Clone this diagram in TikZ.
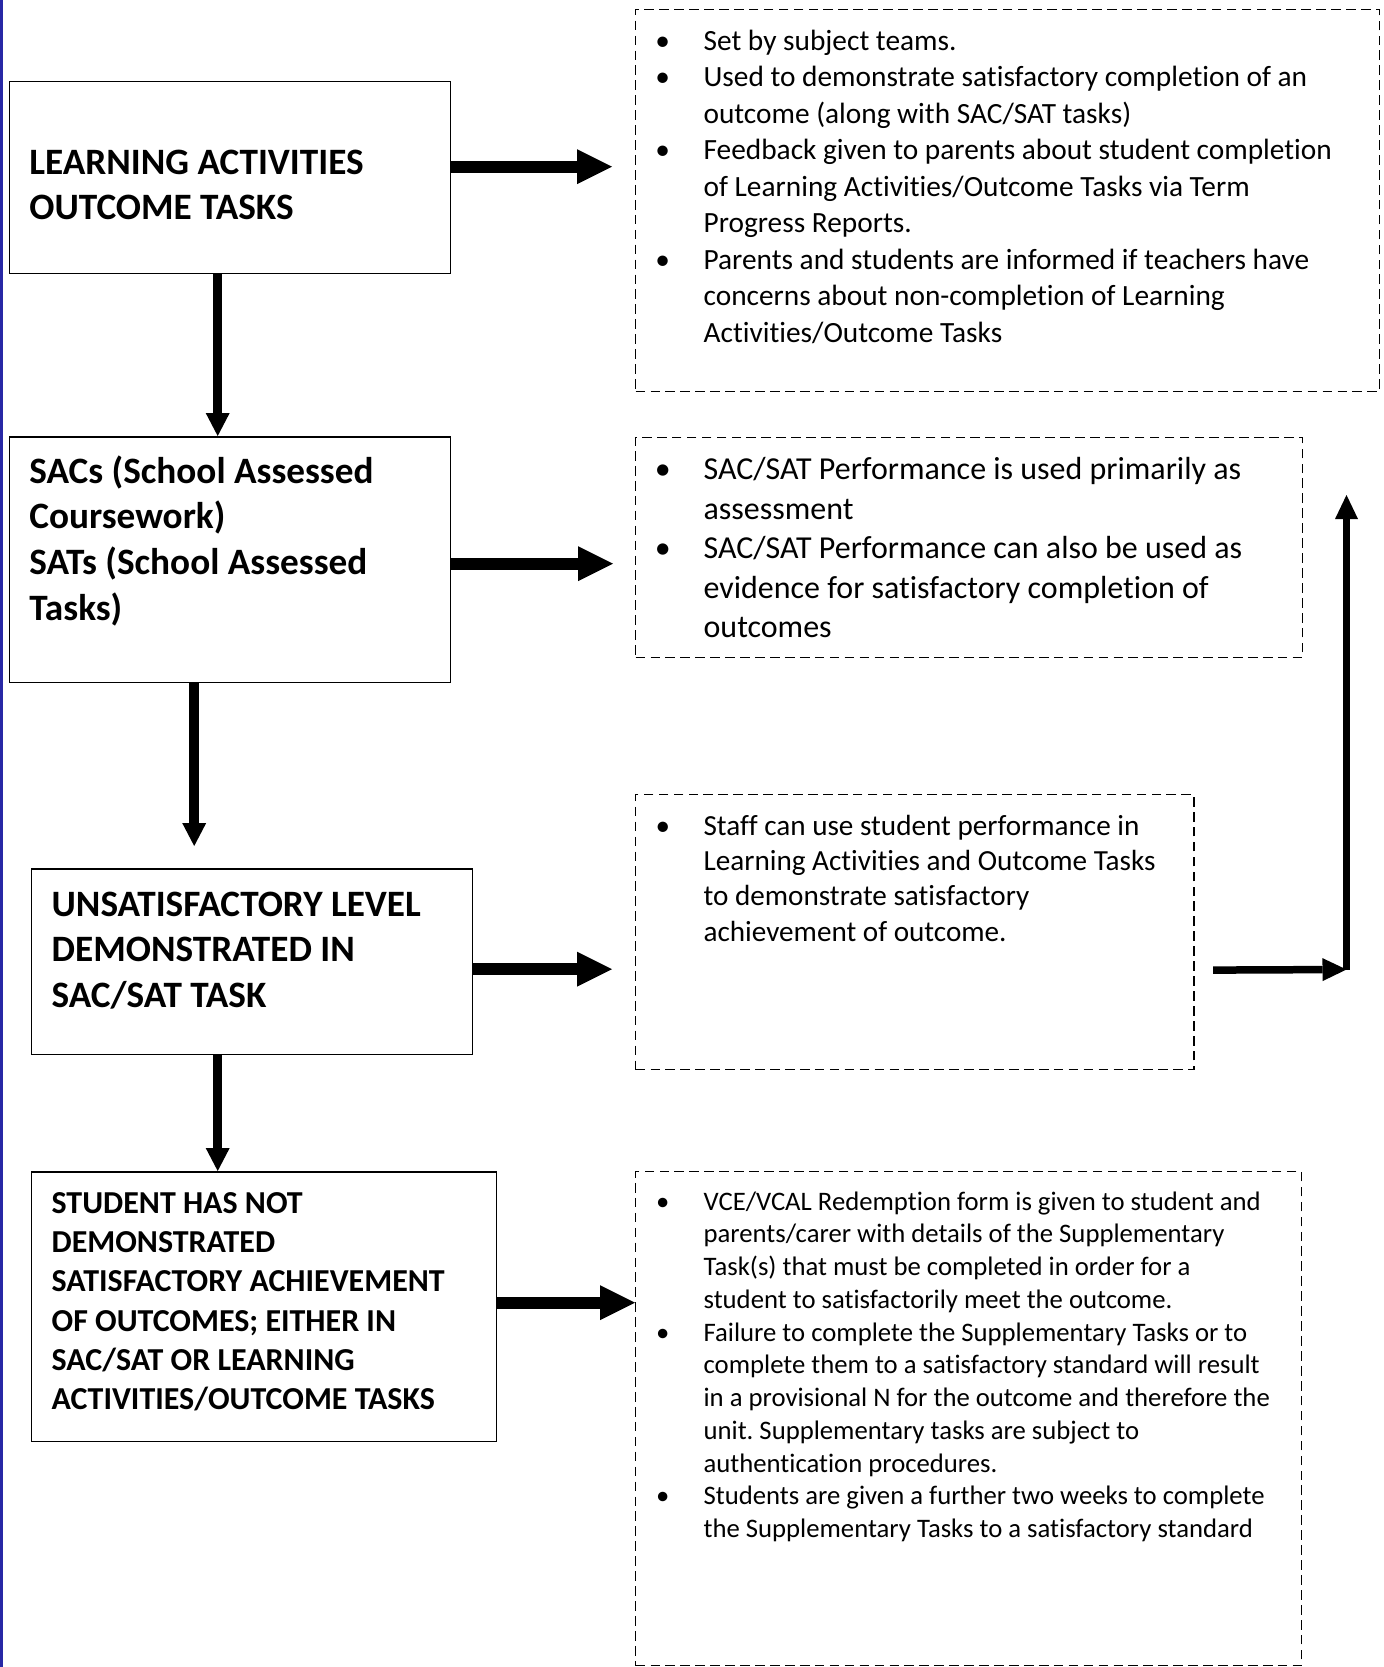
\documentclass[tikz,border=0pt]{standalone}
\usepackage{fontspec}
\setmainfont{Carlito}[Ligatures={NoCommon}]
\usetikzlibrary{arrows.meta}
\frenchspacing

\definecolor{edgeblue}{RGB}{40,40,165}

\newcommand{\bul}{\makebox[34.87pt][l]{\hspace*{11.62pt}\makebox[0pt]{\textbullet}}}

\tikzset{
        flowbox/.style={draw, line width=0.85pt, inner sep=0pt, anchor=north west},
        notebox/.style={draw, dash pattern=on 5.5pt off 3pt, line width=0.7pt, inner sep=0pt, anchor=north west},
        headtext/.style={anchor=base west, inner sep=0pt, font=\bfseries\fontsize{21.2}{26.1}\selectfont},
        smallhead/.style={anchor=base west, inner sep=0pt, font=\bfseries\fontsize{18.2}{22.3}\selectfont},
        notetext/.style={anchor=base west, inner sep=0pt},
        bigarrow/.style={line width=0.24cm, -{Triangle[length=0.7cm, width=0.7cm, line width=0pt]}},
        downarrow/.style={line width=0.19cm, -{Triangle[length=0.46cm, width=0.48cm, line width=0pt]}},
        sidearrow/.style={line width=0.15cm, -{Triangle[length=0.48cm, width=0.46cm, line width=0pt]}}
}

\begin{document}
\begin{tikzpicture}[x=0.02cm, y=-0.02cm]
        \useasboundingbox (0,0) rectangle (1383,1667);
        \fill[white] (0,0) rectangle (1383,1667);
        \fill[edgeblue] (0,0) rectangle (2.7,1667);

        % left column
        \node[flowbox, minimum width=8.83cm, minimum height=3.84cm] (act) at (8.5,81) {};
        \node[flowbox, minimum width=8.83cm, minimum height=4.92cm] (sac) at (8.5,436) {};
        \node[flowbox, minimum width=8.82cm, minimum height=3.72cm] (unsat) at (31,868) {};
        \node[flowbox, minimum width=9.30cm, minimum height=5.40cm] (notmet) at (31,1171) {};

        \node[headtext] (acttext) at ([shift={(20.5,93)}]act.north west)
                {\begin{tabular}[t]{@{}l@{}}LEARNING ACTIVITIES\\ OUTCOME TASKS\end{tabular}};
        \node[headtext] (sactext) at ([shift={(20.5,47)}]sac.north west)
                {\begin{tabular}[t]{@{}l@{}}SACs (School Assessed\\ Coursework)\\ SATs (School Assessed\\ Tasks)\end{tabular}};
        \node[headtext] (unsattext) at ([shift={(20.3,48)}]unsat.north west)
                {\begin{tabular}[t]{@{}l@{}}UNSATISFACTORY LEVEL\\ DEMONSTRATED IN\\ SAC/SAT TASK\end{tabular}};
        \node[smallhead] (notmettext) at ([shift={(20.3,42.5)}]notmet.north west)
                {\begin{tabular}[t]{@{}l@{}}STUDENT HAS NOT\\ DEMONSTRATED\\ SATISFACTORY ACHIEVEMENT\\ OF OUTCOMES; EITHER IN\\ SAC/SAT OR LEARNING\\ ACTIVITIES/OUTCOME TASKS\end{tabular}};

        % right column
        \node[notebox, minimum width=14.88cm, minimum height=7.65cm] (note1) at (635,8.5) {};
        \node[notebox, minimum width=13.34cm, minimum height=4.41cm] (note2) at (635,436.5) {};
        \node[notebox, minimum width=11.17cm, minimum height=5.50cm] (note3) at (635,794) {};
        \node[notebox, minimum width=13.32cm, minimum height=9.88cm] (note4) at (635,1171) {};

        \node[notetext, font=\fontsize{16.7}{20.75}\selectfont] (note1text) at ([shift={(7,42)}]note1.north west)
                {\begin{tabular}[t]{@{}l@{}l@{}}
                \bul & Set by subject teams.\\
                \bul & Used to demonstrate satisfactory completion of an\\
                     & outcome (along with SAC/SAT tasks)\\
                \bul & Feedback given to parents about student completion\\
                     & of Learning Activities/Outcome Tasks via Term\\
                     & Progress Reports.\\
                \bul & Parents and students are informed if teachers have\\
                     & concerns about non-completion of Learning\\
                     & Activities/Outcome Tasks
                \end{tabular}};
        \node[notetext, font=\fontsize{18.2}{22.5}\selectfont] (note2text) at ([shift={(7,43)}]note2.north west)
                {\begin{tabular}[t]{@{}l@{}l@{}}
                \bul & SAC/SAT Performance is used primarily as\\
                     & assessment\\
                \bul & SAC/SAT Performance can also be used as\\
                     & evidence for satisfactory completion of\\
                     & outcomes
                \end{tabular}};
        \node[notetext, font=\fontsize{16.6}{20.2}\selectfont] (note3text) at ([shift={(7,41)}]note3.north west)
                {\begin{tabular}[t]{@{}l@{}l@{}}
                \bul & Staff can use student performance in\\
                     & Learning Activities and Outcome Tasks\\
                     & to demonstrate satisfactory\\
                     & achievement of outcome.
                \end{tabular}};
        \node[notetext, font=\fontsize{15.2}{18.65}\selectfont] (note4text) at ([shift={(7,39)}]note4.north west)
                {\begin{tabular}[t]{@{}l@{}l@{}}
                \bul & VCE/VCAL Redemption form is given to student and\\
                     & parents/carer with details of the Supplementary\\
                     & Task(s) that must be completed in order for a\\
                     & student to satisfactorily meet the outcome.\\
                \bul & Failure to complete the Supplementary Tasks or to\\
                     & complete them to a satisfactory standard will result\\
                     & in a provisional N for the outcome and therefore the\\
                     & unit. Supplementary tasks are subject to\\
                     & authentication procedures.\\
                \bul & Students are given a further two weeks to complete\\
                     & the Supplementary Tasks to a satisfactory standard
                \end{tabular}};

        % connectors
        \foreach \From/\To/\Dy/\Gap in {act/note1/-11/0.46cm, sac/note2/4/0.44cm, unsat/note3/7.5/0.46cm, notmet/note4/-4/0cm}
        {
          \draw[bigarrow, shorten >=\Gap] ([shift={(0,\Dy)}]\From.east) -- ([shift={(0,\Dy)}]\From.east -| \To.west);
        }
        \foreach \From/\To/\Dx/\Gap in {act/sac/-12.25/0cm, sac/unsat/-35.75/0.44cm, unsat/notmet/-34.5/0cm}
        {
          \draw[downarrow, shorten >=\Gap] ([shift={(\Dx,0)}]\From.south) -- ([shift={(\Dx,0)}]\From.south |- \To.north);
        }

        \coordinate (turn) at (1346.5,969.5);
        \coordinate (uptip) at (1346.5,495);
        \draw[sidearrow] ([shift={(18.5,38)}]note3.east) -- (turn);
        \draw[sidearrow] (turn) -- (uptip);
\end{tikzpicture}
\end{document}
